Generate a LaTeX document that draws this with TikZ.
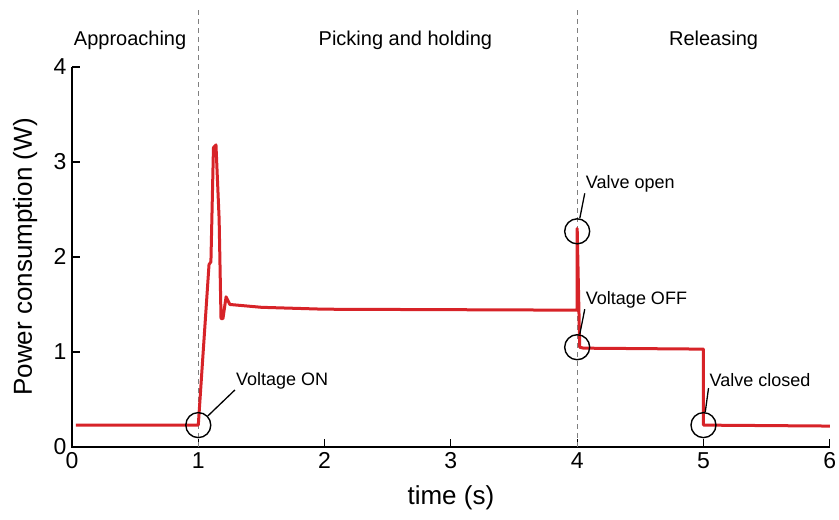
\documentclass[tikz,border=0pt]{standalone}
\usepackage{fontspec}
\setmainfont{Liberation Sans}
\begin{document}
\begin{tikzpicture}[x=126.3pt,y=95pt,
  trace/.style={draw={rgb,255:red,215;green,35;blue,40},line width=3pt,line join=round},
  eventring/.style={draw,circle,line width=1.4pt,minimum size=25pt,inner sep=0pt},
  note/.style={font=\fontsize{18}{18}\selectfont,anchor=south west,inner sep=1pt},
  phase/.style={font=\fontsize{20}{20}\selectfont}]
  \useasboundingbox (-0.570,-0.768) rectangle (6.073,4.705);
  % axes
  \draw[line width=1.2pt] (0,4) -- (0,0) -- (6,0);
  \foreach \x in {0,...,6}{
    \draw[line width=1.2pt] (\x,0) -- (\x,0.08);
    \node[font=\fontsize{23}{23}\selectfont,below=2pt] at (\x,0) {\x};}
  \foreach \y in {0,...,4}{
    \draw[line width=1.2pt] (0,\y) -- (0.06,\y);
    \node[font=\fontsize{23}{23}\selectfont,left=2pt] at (0,\y) {\y};}
  \node[font=\fontsize{26}{26}\selectfont,rotate=90] (ylab) at (-0.37,2) {Power consumption (W)};
  \node[font=\fontsize{26}{26}\selectfont] (xlab) at (3,-0.53) {time (s)};
  % phases
  \draw[gray,line width=1.3pt,dash pattern=on 5pt off 4pt] (1,0) -- (1,4.6);
  \draw[gray,line width=1.3pt,dash pattern=on 5pt off 4pt] (4,0) -- (4,4.6);
  \node[phase] (app) at (0.46,4.28) {Approaching};
  \node[phase] (pick) at (2.64,4.28) {Picking and holding};
  \node[phase] (rel) at (5.08,4.28) {Releasing};
  % power trace
  \draw[trace] (0.03,0.23) -- (1.0,0.23) -- (1.085,1.92) -- (1.1,1.95)
    -- (1.12,3.15) -- (1.14,3.18) -- (1.165,2.4) -- (1.18,1.35) -- (1.195,1.35)
    -- (1.22,1.58) -- (1.25,1.5) -- (1.5,1.47) -- (2,1.45) -- (4,1.44)
    -- (4.0,2.3) -- (4.02,1.05) -- (4.05,1.04) -- (5.0,1.03) -- (5.0,0.23)
    -- (6,0.22);
  % events
  \node[eventring] (von) at (1.0,0.23) {};
  \node[eventring] (vopen) at (4.0,2.27) {};
  \node[eventring] (voff) at (4.0,1.05) {};
  \node[eventring] (vclose) at (5.0,0.23) {};
  \node[note] (tvon) at (1.29,0.6) {Voltage ON};
  \node[note] (tvopen) at (4.06,2.67) {Valve open};
  \node[note] (tvoff) at (4.06,1.45) {Voltage OFF};
  \node[note] (tvclose) at (5.04,0.62) {Valve closed};
  \draw[line width=1.3pt] (von) -- (tvon.south west);
  \draw[line width=1.3pt] (vopen) -- (tvopen.south west);
  \draw[line width=1.3pt] (voff) -- (tvoff.south west);
  \draw[line width=1.3pt] (vclose) -- (tvclose.south west);
\end{tikzpicture}
\end{document}
